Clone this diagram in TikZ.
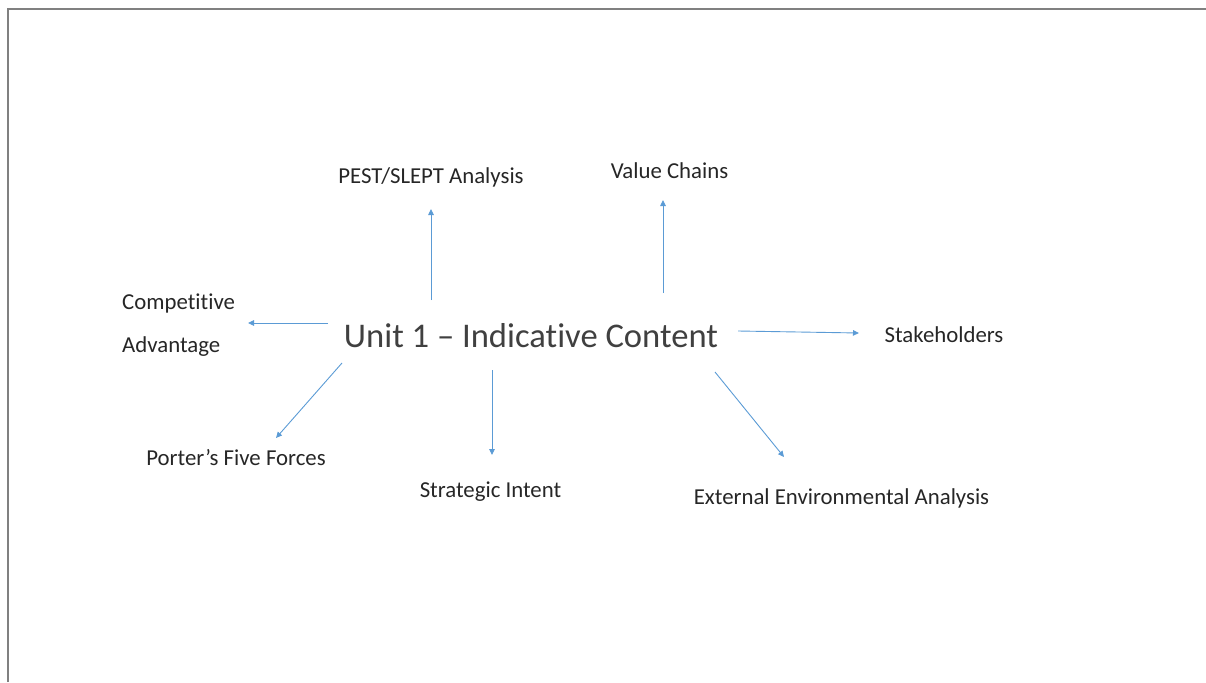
\documentclass[tikz,border=0pt]{standalone}
\usepackage{fontspec}
\setmainfont{Carlito}[Ligatures=NoCommon]
\usetikzlibrary{arrows.meta}
\definecolor{framegray}{HTML}{808080}
\definecolor{arrowblue}{HTML}{5B9BD5}
\definecolor{labeltext}{HTML}{262626}
\definecolor{titletext}{HTML}{404040}
\begin{document}
\begin{tikzpicture}[x=1pt,y=-1pt,
  label/.style={inner sep=0pt, text=labeltext, font=\fontsize{22.8}{26}\selectfont, anchor=base},
  title/.style={inner sep=0pt, text=titletext, font=\fontsize{34.6}{42}\selectfont, anchor=base},
  arr/.style={draw=arrowblue, line width=0.9pt, -{Triangle[length=6pt,width=5.5pt]}},
  frameline/.style={draw=framegray, line width=2pt}]
  \useasboundingbox (0,0) rectangle (1206,682);
  % page frame (left and top edges)
  \draw[frameline] (7.5,682) -- (7.5,9.5) -- (1206,9.5);

  % central topic
  \node[title] (unit) at (531,347) {Unit 1 – Indicative Content};

  % surrounding topics
  \node[label] (pest) at (431,183) {PEST/SLEPT Analysis};
  \node[label] (value) at (669.5,178) {Value Chains};
  \node[label] (stake) at (944,342) {Stakeholders};
  \node[label] (ext) at (841.5,504) {External Environmental Analysis};
  \node[label] (porter) at (236,465) {Porter’s Five Forces};
  \node[label] (intent) at (490.5,497) {Strategic Intent};
  \node[inner sep=0pt, text=labeltext, anchor=west, align=left,
        font=\fontsize{22.8}{43}\selectfont] (comp) at (122,325.5) {Competitive\\Advantage};

  % connector ends
  \coordinate (pestT) at (431,300);   \coordinate (pestH) at (431,209);
  \coordinate (valueT) at (663,293);  \coordinate (valueH) at (663,200);
  \coordinate (compT) at (328,323);   \coordinate (compH) at (248,323);
  \coordinate (stakeT) at (738,331);  \coordinate (stakeH) at (859,333);
  \coordinate (porterT) at (342,363); \coordinate (porterH) at (276,438);
  \coordinate (intentT) at (492,370); \coordinate (intentH) at (492,455);
  \coordinate (extT) at (715,372);    \coordinate (extH) at (784,457);

  \draw[arr] (pestT) -- (pestH);
  \draw[arr] (valueT) -- (valueH);
  \draw[arr] (compT) -- (compH);
  \draw[arr] (stakeT) -- (stakeH);
  \draw[arr] (porterT) -- (porterH);
  \draw[arr] (intentT) -- (intentH);
  \draw[arr] (extT) -- (extH);
\end{tikzpicture}
\end{document}
